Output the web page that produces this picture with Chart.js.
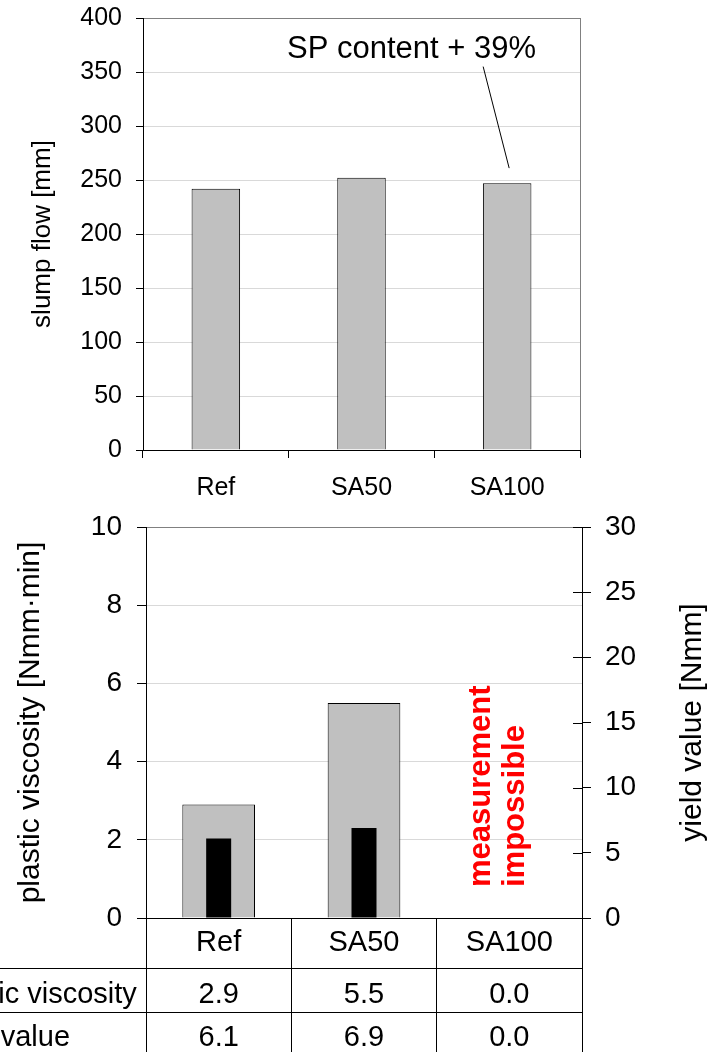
<!DOCTYPE html>
<html>
<head>
<meta charset="utf-8">
<script src="https://cdn.jsdelivr.net/npm/chart.js@4.4.1/dist/chart.umd.min.js"></script>
<style>
  body { margin: 0; background: #fff; }
  canvas { position: absolute; left: 0; }
  #top { top: 0; }
  #bottom { top: 500px; }
</style>
</head>
<body>
<canvas id="top" width="717" height="500"></canvas>
<canvas id="bottom" width="717" height="552"></canvas>
<script>
// dados
const categorias = ['Ref', 'SA50', 'SA100'];
const slumpFlow = [242, 252, 247];
const plasticViscosity = [2.9, 5.5, 0.0];
const yieldValue = [6.1, 6.9, 0.0];
const rowLabels = ['plastic viscosity', 'yield value'];
const nota = 'SP content + 39%';
const notaImpossivel = ['measurement', 'impossible'];

const fonte = 'Liberation Sans, Arial, sans-serif';
Chart.defaults.font.family = fonte;
Chart.defaults.color = '#000';

function corGrid(max){
    return (c) => {
        if (c.tick.value === max) return '#808080';
        if (c.tick.value === 0) return 'rgba(0,0,0,0)';
        return '#d9d9d9';
    };
}

// tira o espaco extra que o chart.js reserva para os labels
function semPadding(s){
    s.paddingTop = 0;
    s.paddingBottom = 0;
    s.paddingLeft = 0;
    s.paddingRight = 0;
}

// grafico de cima: slump flow
const pluginTop = {
    id: 'extrasTop',
    afterDraw(chart){
        const ctx = chart.ctx;
        const a = chart.chartArea;
        const x = chart.scales.x;
        const y = chart.scales.y;
        ctx.save();
        ctx.strokeStyle = '#808080';
        ctx.lineWidth = 1;
        ctx.beginPath();
        ctx.moveTo(Math.round(a.right) + 0.5, a.top);
        ctx.lineTo(Math.round(a.right) + 0.5, a.bottom);
        ctx.stroke();

        ctx.fillStyle = '#000';
        ctx.font = '31px ' + fonte;
        ctx.textAlign = 'center';
        ctx.textBaseline = 'middle';
        ctx.fillText(nota, x.getPixelForValue(1) + 50, y.getPixelForValue(371));

        ctx.strokeStyle = '#000';
        ctx.beginPath();
        ctx.moveTo(x.getPixelForValue(2) - 24, y.getPixelForValue(355));
        ctx.lineTo(x.getPixelForValue(2) + 2, y.getPixelForValue(261));
        ctx.stroke();
        ctx.restore();
    }
};

new Chart(document.getElementById('top'), {
    type: 'bar',
    data: {
        labels: categorias,
        datasets: [{
            label: 'slump flow',
            data: slumpFlow,
            backgroundColor: '#c0c0c0',
            borderColor: '#000',
            borderWidth: 1,
            barPercentage: 0.333,
            categoryPercentage: 1
        }]
    },
    options: {
        responsive: false,
        animation: false,
        layout: { padding: { top: 18, right: 137, left: 0, bottom: 0 } },
        plugins: { legend: { display: false }, tooltip: { enabled: false } },
        scales: {
            x: {
                grid: { offset: true, drawOnChartArea: false, tickLength: 8, color: '#000' },
                border: { color: '#000' },
                ticks: { font: { size: 25 }, padding: 15, autoSkip: false, maxRotation: 0 },
                afterFit: s => { s.height = 50; semPadding(s); }
            },
            y: {
                min: 0, max: 400,
                ticks: { stepSize: 50, font: { size: 25 }, padding: 14 },
                grid: { color: corGrid(400), tickColor: '#000', tickLength: 7 },
                border: { color: '#000' },
                title: { display: true, text: 'slump flow [mm]', font: { size: 26 }, padding: { top: 27, bottom: 0 } },
                afterFit: s => { s.width = 143; semPadding(s); }
            }
        }
    },
    plugins: [pluginTop]
});

// grafico de baixo: viscosidade e yield value
const pluginBottom = {
    id: 'extrasBottom',
    afterDraw(chart){
        const ctx = chart.ctx;
        const a = chart.chartArea;
        const x = chart.scales.x;
        const y2 = chart.scales.y2;
        ctx.save();
        // ticks internos do eixo direito
        ctx.strokeStyle = '#000';
        ctx.lineWidth = 1;
        y2.ticks.forEach(t => {
            const py = Math.round(y2.getPixelForValue(t.value)) + 0.5;
            ctx.beginPath();
            ctx.moveTo(a.right - 9, py);
            ctx.lineTo(a.right, py);
            ctx.stroke();
        });

        // linhas da tabela
        const linhas = [a.bottom + 50, a.bottom + 94];
        linhas.forEach(ly => {
            ctx.beginPath();
            ctx.moveTo(0, ly + 0.5);
            ctx.lineTo(a.right, ly + 0.5);
            ctx.stroke();
        });

        // valores da tabela
        ctx.fillStyle = '#000';
        ctx.font = '29px ' + fonte;
        ctx.textBaseline = 'middle';
        const series = [plasticViscosity, yieldValue];
        const centros = [a.bottom + 77, a.bottom + 120];
        const inicioLabel = [-63, -67];
        series.forEach((s, r) => {
            ctx.textAlign = 'left';
            ctx.fillText(rowLabels[r], inicioLabel[r], centros[r]);
            ctx.textAlign = 'center';
            s.forEach((v, i) => ctx.fillText(v.toFixed(1), x.getPixelForValue(i), centros[r]));
        });

        // titulo do eixo direito
        ctx.font = '30px ' + fonte;
        ctx.translate(693, (a.top + a.bottom) / 2);
        ctx.rotate(-Math.PI / 2);
        ctx.textAlign = 'center';
        ctx.fillText('yield value [Nmm]', 0, 0);
        ctx.restore();

        // texto vermelho
        ctx.save();
        ctx.fillStyle = '#ff0000';
        ctx.font = 'bold 31px ' + fonte;
        ctx.textAlign = 'left';
        ctx.textBaseline = 'alphabetic';
        const bx = [490, 524];
        notaImpossivel.forEach((t, i) => {
            ctx.save();
            ctx.translate(bx[i], a.bottom - 31);
            ctx.rotate(-Math.PI / 2);
            ctx.fillText(t, 0, 0);
            ctx.restore();
        });
        ctx.restore();
    }
};

new Chart(document.getElementById('bottom'), {
    type: 'bar',
    data: {
        labels: categorias,
        datasets: [
            {
                label: 'yield value',
                data: yieldValue,
                yAxisID: 'y2',
                backgroundColor: '#000',
                borderWidth: 0,
                barPercentage: 0.172,
                categoryPercentage: 1,
                grouped: false,
                order: 0
            },
            {
                label: 'plastic viscosity',
                data: plasticViscosity,
                yAxisID: 'y',
                backgroundColor: '#c0c0c0',
                borderColor: '#000',
                borderWidth: 1,
                barPercentage: 0.5,
                categoryPercentage: 1,
                grouped: false,
                order: 1
            }
        ]
    },
    options: {
        responsive: false,
        animation: false,
        layout: { padding: { top: 27, right: 0, left: 0, bottom: 0 } },
        plugins: { legend: { display: false }, tooltip: { enabled: false } },
        scales: {
            x: {
                grid: { offset: true, drawOnChartArea: false, tickLength: 134, color: '#000' },
                border: { color: '#000' },
                ticks: { font: { size: 29 }, padding: -126, autoSkip: false, maxRotation: 0 },
                afterFit: s => { s.height = 134; semPadding(s); }
            },
            y: {
                position: 'left',
                min: 0, max: 10,
                ticks: { stepSize: 2, font: { size: 28 }, padding: 15 },
                grid: { color: corGrid(10), tickColor: '#000', tickLength: 9 },
                border: { color: '#000' },
                title: { display: true, text: 'plastic viscosity [Nmm·min]', font: { size: 30 }, padding: { top: 13, bottom: 0 } },
                afterFit: s => { s.width = 146; semPadding(s); }
            },
            y2: {
                position: 'right',
                min: 0, max: 30,
                ticks: { stepSize: 5, font: { size: 28 }, padding: 14 },
                grid: { drawOnChartArea: false, color: '#000', tickLength: 9 },
                border: { color: '#000' },
                afterFit: s => { s.width = 135; semPadding(s); }
            }
        }
    },
    plugins: [pluginBottom]
});
</script>
</body>
</html>
